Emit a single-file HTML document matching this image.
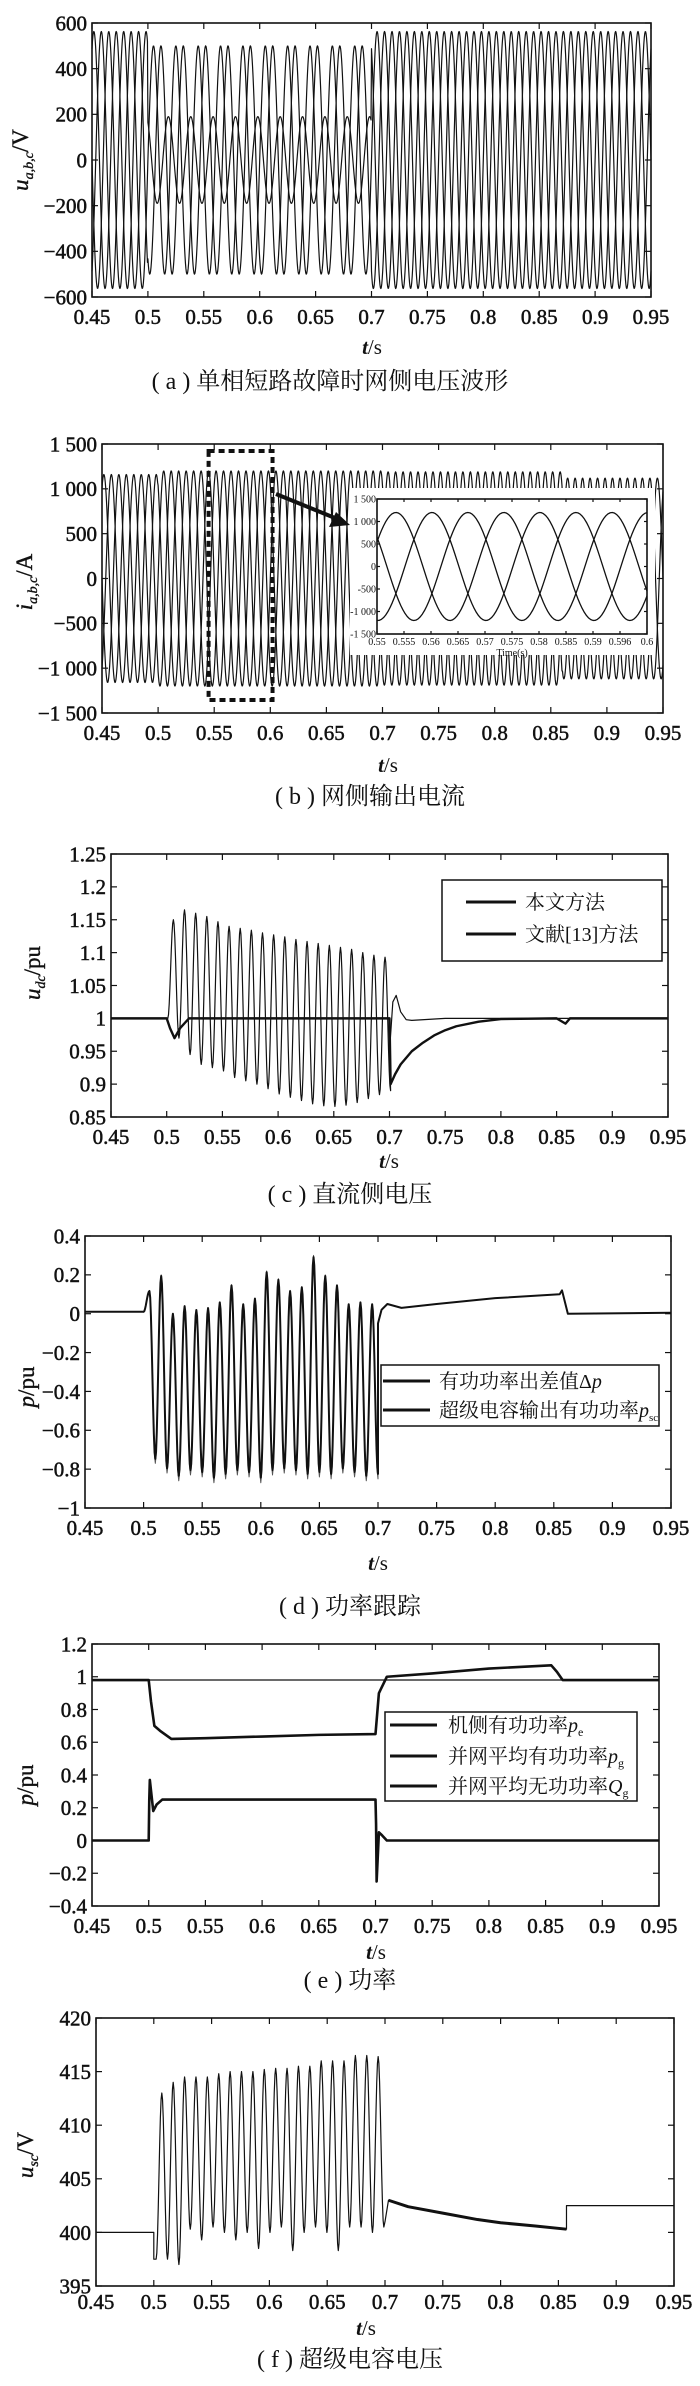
<!DOCTYPE html>
<html><head><meta charset="utf-8"><style>
html,body{margin:0;padding:0;background:#fff;}
svg{display:block;}
text{font-family:"Liberation Serif","Noto Serif CJK SC",serif;fill:#111;}
.cap{font-size:24px;}
.ttl{font-size:21px;}
.lg{font-size:20px;}
</style></head><body>
<svg id="root" width="700" height="2386" viewBox="0 0 700 2386" xmlns="http://www.w3.org/2000/svg"></svg>
<script>
// ---------- shared axis data ----------
const xTicks=[0.45,0.5,0.55,0.6,0.65,0.7,0.75,0.8,0.85,0.9,0.95];
const xTickLabels=["0.45","0.5","0.55","0.6","0.65","0.7","0.75","0.8","0.85","0.9","0.95"];
// (a) grid voltage
const aYTicks=[-600,-400,-200,0,200,400,600];
const aYLabels=["\u2212600","\u2212400","\u2212200","0","200","400","600"];
const aSegTimes=[0.45,0.5,0.7,0.95];
const aAmpA=[563,500,563];
const aAmpB=[563,500,563];
const aAmpC=[563,190,563];
// (b) grid current
const bYTicks=[-1500,-1000,-500,0,500,1000,1500];
const bYLabels=["\u22121 500","\u22121 000","\u2212500","0","500","1 000","1 500"];
const bSegTimes=[0.45,0.5,0.7,0.86,0.95];
const bAmp=[1160,1200,1190,1120];
const insetXTicks=[0.55,0.555,0.56,0.565,0.57,0.575,0.58,0.585,0.59,0.595,0.6];
const insetXLabels=["0.55","0.555","0.56","0.565","0.57","0.575","0.58","0.585","0.59","0.596","0.6"];
const insetAmp=[1200];
// (c) dc voltage
const cYTicks=[0.85,0.9,0.95,1,1.05,1.1,1.15,1.2,1.25];
const cYLabels=["0.85","0.9","0.95","1","1.05","1.1","1.15","1.2","1.25"];
const cRefPeaks=[1.15,1.165,1.16,1.155,1.147,1.14,1.137,1.134,1.13,1.127,1.124,1.12,1.117,1.114,1.111,1.108,1.105,1.1,1.096,1.093];
const cRefTroughs=[0.97,0.945,0.93,0.925,0.92,0.91,0.905,0.9,0.893,0.885,0.88,0.875,0.87,0.867,0.866,0.868,0.872,0.878,0.884,0.89];
const cRefAfterT=[0.7,0.703,0.706,0.71,0.715,0.72,0.75,0.95];
const cRefAfterV=[0.95,1.025,1.035,1.01,0.998,0.997,1.0,1.0];
const cOurT=[0.45,0.5,0.503,0.507,0.512,0.52,0.7,0.701,0.705,0.71,0.72,0.73,0.74,0.75,0.76,0.78,0.8,0.85,0.858,0.862,0.95];
const cOurV=[1.0,1.0,0.985,0.97,0.985,1.0,1.0,0.9,0.915,0.93,0.95,0.963,0.974,0.982,0.988,0.995,0.999,1.0,0.992,1.0,1.0];
// (d) power tracking
const dYTicks=[-1,-0.8,-0.6,-0.4,-0.2,0,0.2,0.4];
const dYLabels=["\u22121","\u22120.8","\u22120.6","\u22120.4","\u22120.2","0","0.2","0.4"];
const dPeaks=[0.12,0.2,0.0,0.04,0.02,0.03,0.06,0.15,0.05,0.08,0.22,0.18,0.12,0.14,0.3,0.2,0.15,0.05,0.06,0.05];
const dTroughs=[-0.77,-0.82,-0.86,-0.83,-0.84,-0.87,-0.85,-0.83,-0.84,-0.87,-0.83,-0.82,-0.83,-0.85,-0.84,-0.85,-0.82,-0.84,-0.86,-0.85];
const dBeforeT=[0.45,0.5];
const dBeforeV=[0.01,0.01];
const dAfterT=[0.7,0.703,0.708,0.72,0.75,0.8,0.855,0.857,0.862,0.95];
const dAfterV=[-0.05,0.02,0.05,0.03,0.05,0.08,0.1,0.12,0.0,0.005];
// (e) power
const eYTicks=[-0.4,-0.2,0,0.2,0.4,0.6,0.8,1,1.2];
const eYLabels=["\u22120.4","\u22120.2","0","0.2","0.4","0.6","0.8","1","1.2"];
const ePeT=[0.45,0.5,0.502,0.505,0.51,0.52,0.55,0.6,0.65,0.7,0.703,0.71,0.75,0.8,0.855,0.86,0.865,0.95];
const ePeV=[0.98,0.98,0.85,0.7,0.67,0.62,0.625,0.635,0.645,0.65,0.9,1.0,1.02,1.05,1.07,1.03,0.98,0.98];
const ePgT=[0.45,0.95];
const ePgV=[0.98,0.98];
const eQgT=[0.45,0.5,0.5005,0.501,0.504,0.507,0.512,0.7,0.7005,0.701,0.703,0.706,0.71,0.95];
const eQgV=[0,0,0.25,0.37,0.18,0.22,0.25,0.25,0.1,-0.25,0.05,0.03,0,0];
// (f) supercap voltage
const fYTicks=[395,400,405,410,415,420];
const fYLabels=["395","400","405","410","415","420"];
const fPeaks=[413,414,414.5,414.5,414.5,414.8,415,415,415,415.2,415.3,415.3,415.5,415.5,416,416,416,416.5,416.5,416.4];
const fTroughs=[397.5,397,400.3,399.3,400.5,400,399.3,400,398.5,400,400.5,398.3,400,400.5,400,398.3,400.5,400.5,400,400.5];
const fAfterT=[0.45,0.5,0.5,0.502];
const fAfterV=[400,400,397.5,397.5];
const fTailT=[0.7,0.703,0.72,0.75,0.78,0.8,0.83,0.857,0.857,0.95];
const fTailV=[401,403,402.4,401.8,401.2,400.9,400.6,400.3,402.5,402.5];

const NS="http://www.w3.org/2000/svg";
const root=document.getElementById('root');
function el(tag,attrs,parent){const e=document.createElementNS(NS,tag);for(const k in attrs)e.setAttribute(k,attrs[k]);(parent||root).appendChild(e);return e;}

function makeAxes(name,box,xd,yd){
  const g=el('g',{});
  
  
  const sx=v=>box.l+(v-xd[0])/(xd[1]-xd[0])*(box.r-box.l);
  const sy=v=>box.b-(v-yd[0])/(yd[1]-yd[0])*(box.b-box.t);
  return {g,sx,sy,box};
}
function frame(ax,xt,xl,yt,yl,opts){
  const {g,sx,sy,box}=ax;
  const tl=opts.tick||6, fs=opts.fs||21, sw=opts.sw===undefined?0.5:opts.sw;
  const fr=el('rect',{x:box.l,y:box.t,width:box.r-box.l,height:box.b-box.t,fill:'none',stroke:'#111','stroke-width':1.6},g);
  
  
  xt.forEach((v,i)=>{
    const x=sx(v);
    el('line',{x1:x,y1:box.b,x2:x,y2:box.b-tl,stroke:'#111','stroke-width':1.2},g);
    el('line',{x1:x,y1:box.t,x2:x,y2:box.t+tl,stroke:'#111','stroke-width':1.2},g);
    const t=el('text',{x:x,y:box.b+(opts.xlOff||27),'text-anchor':'middle','font-size':fs,stroke:'#111','stroke-width':sw},g);
    
    
    t.textContent=xl[i];
  });
  yt.forEach((v,i)=>{
    const y=sy(v);
    el('line',{x1:box.l,y1:y,x2:box.l+tl,y2:y,stroke:'#111','stroke-width':1.2},g);
    el('line',{x1:box.r,y1:y,x2:box.r-tl,y2:y,stroke:'#111','stroke-width':1.2},g);
    const t=el('text',{x:box.l-(opts.ylOff||5),y:y+fs*0.35,'text-anchor':'end','font-size':fs,stroke:'#111','stroke-width':sw},g);
    
    
    t.textContent=yl[i];
  });
}
function poly(ax,ts,vs,w,name,col){
  let d='';
  ts.forEach((t,i)=>{d+=(i?'L':'M')+ax.sx(t).toFixed(2)+','+ax.sy(vs[i]).toFixed(2);});
  const p=el('path',{d:d,fill:'none',stroke:col||'#111','stroke-width':w,'stroke-linejoin':'round'},ax.g);
  
  
  return p;
}
function sineSeries(segT,amps,phase,t0,t1,f){
  const ts=[],vs=[];const N=Math.round((t1-t0)/0.0004);
  for(let i=0;i<=N;i++){const t=t0+(t1-t0)*i/N;let k=0;while(k<amps.length-1&&t>=segT[k+1])k++;
    ts.push(t);vs.push(amps[k]*Math.sin(2*Math.PI*f*t+phase));}
  return [ts,vs];
}
function oscSeries(t0,T,peaks,troughs,startV){
  const ts=[t0],vs=[startV];let prev=startV,t=t0;
  for(let i=0;i<peaks.length;i++){
    const seq=[[T*0.5,peaks[i]],[T*0.5,troughs[i]]];
    seq.forEach(([dt,target])=>{const s=8;for(let j=1;j<=s;j++){const u=j/s;ts.push(t+dt*u);vs.push(prev+(target-prev)*(1-Math.cos(Math.PI*u))/2);}t+=dt;prev=target;});
  }
  return [ts,vs];
}
function txt(x,y,s,cls,name,anchor){const t=el('text',{x:x,y:y,class:cls,'text-anchor':anchor||'middle'});t.innerHTML=s;return t;}
function ytitle(x,y,s,name){const t=el('text',{x:0,y:0,'font-size':23,'text-anchor':'middle',stroke:'#111','stroke-width':0.4,transform:`translate(${x},${y}) rotate(-90)`});t.innerHTML=s;}
function legend(x,y,w,h,rows,lx1,lx2,tx,rowY,name,fs){
  const g=el('g',{});
  el('rect',{x:x,y:y,width:w,height:h,fill:'#fff',stroke:'#111','stroke-width':1.5},g);
  rows.forEach((r,i)=>{
    el('line',{x1:lx1,y1:rowY[i],x2:lx2,y2:rowY[i],stroke:'#111','stroke-width':3},g);
    const t=el('text',{x:tx,y:rowY[i]+7,class:'lg','font-size':fs||20},g);
    
    
    t.innerHTML=r;
  });
}
const ts_lab='<tspan font-style="italic" font-weight="bold">t</tspan>/s';

// ---------------- (a) ----------------
{const ax=makeAxes('chart-a-grid-voltage',{l:92,r:651,t:23,b:297},[0.45,0.95],[-600,600]);
 [[aAmpA,0],[aAmpB,-2*Math.PI/3],[aAmpC,2*Math.PI/3]].forEach(([amp,ph],i)=>{
  const [ts,vs]=sineSeries(aSegTimes,amp,ph,0.45,0.95,50);poly(ax,ts,vs,1.2,'phase-voltage-'+'abc'[i]);});
 frame(ax,xTicks,xTickLabels,aYTicks,aYLabels,{});
 txt(372,354,ts_lab,'ttl','x-axis-title');
 ytitle(28,160,'<tspan font-style="italic">u</tspan><tspan font-style="italic" font-size="14" dy="5">a,b,c</tspan><tspan dy="-5">/V</tspan>','y-axis-title');
 txt(330,389,'( a ) 单相短路故障时网侧电压波形','cap','caption-a');}

// ---------------- (b) ----------------
{const ax=makeAxes('chart-b-grid-current',{l:102,r:663,t:444,b:713},[0.45,0.95],[-1500,1500]);
 [0,-2*Math.PI/3,2*Math.PI/3].forEach((ph,i)=>{
  const [ts,vs]=sineSeries(bSegTimes,bAmp,ph,0.45,0.95,50);poly(ax,ts,vs,1.2,'phase-current-'+'abc'[i]);});
 frame(ax,xTicks,xTickLabels,bYTicks,bYLabels,{});
 const zb=el('rect',{x:ax.sx(0.545),y:451,width:ax.sx(0.602)-ax.sx(0.545),height:249,fill:'none',stroke:'#111','stroke-width':4,'stroke-dasharray':'6,4'});
 
 const ig=el('g',{});
 el('rect',{x:350,y:488,width:305,height:167,fill:'#fff'},ig);
 const ia=makeAxes('inset-axes',{l:377,r:647,t:499,b:634},[0.55,0.6],[-1500,1500]);
 [0,-2*Math.PI/3,2*Math.PI/3].forEach((ph,i)=>{
  const [ts,vs]=sineSeries([0.55,0.6],insetAmp,ph-2*Math.PI*50*0.5535+Math.PI/2,0.55,0.6,50);poly(ia,ts,vs,1.3,'inset-phase-'+'abc'[i]);});
 frame(ia,insetXTicks,insetXLabels,bYTicks,bYLabels.map(s=>s.replace('\u2212','-')),{tick:3,fs:10,xlOff:11,ylOff:1,sw:0});
 txt(512,656,'Time(s)','','inset-x-title').setAttribute('font-size','10');
 el('line',{x1:276,y1:494,x2:335,y2:518,stroke:'#111','stroke-width':4});
 const ah=el('polygon',{points:'350,525 329,527 336,512',fill:'#111'});
 txt(388,772,ts_lab,'ttl','x-axis-title');
 ytitle(32,582,'<tspan font-style="italic">i</tspan><tspan font-style="italic" font-size="14" dy="5">a,b,c</tspan><tspan dy="-5">/A</tspan>','y-axis-title');
 txt(370,804,'( b ) 网侧输出电流','cap','caption-b');}

// ---------------- (c) ----------------
{const ax=makeAxes('chart-c-dc-voltage',{l:111,r:668,t:854,b:1117},[0.45,0.95],[0.85,1.25]);
 const [ot,ov]=oscSeries(0.501,0.01,cRefPeaks,cRefTroughs,1.0);
 poly(ax,[0.45,0.5].concat(ot).concat(cRefAfterT),[1,1].concat(ov).concat(cRefAfterV),1.2,'series-ref13-method');
 poly(ax,cOurT,cOurV,2.4,'series-proposed-method');
 frame(ax,xTicks,xTickLabels,cYTicks,cYLabels,{});
 legend(442,880,220,81,['本文方法','文献[13]方法'],466,516,525,[902,934],'legend-c',22);
 txt(389,1168,ts_lab,'ttl','x-axis-title');
 ytitle(40,973,'<tspan font-style="italic">u</tspan><tspan font-style="italic" font-size="14" dy="5">dc</tspan><tspan dy="-5">/pu</tspan>','y-axis-title');
 txt(350,1202,'( c ) 直流侧电压','cap','caption-c');}

// ---------------- (d) ----------------
{const ax=makeAxes('chart-d-power-tracking',{l:85,r:671,t:1236,b:1508},[0.45,0.95],[-1,0.4]);
 const [ot,ov]=oscSeries(0.5,0.01,dPeaks,dTroughs,0.01);
 poly(ax,dBeforeT.concat(ot).concat(dAfterT),dBeforeV.concat(ov).concat(dAfterV),1.0,'series-delta-p','#555');
 poly(ax,dBeforeT.concat(ot).concat(dAfterT),dBeforeV.concat(ov.map(v=>v*0.97)).concat(dAfterV),2.0,'series-p-sc');
 frame(ax,xTicks,xTickLabels,dYTicks,dYLabels,{});
 legend(381,1365,278,61,['有功功率出差值Δ<tspan font-style="italic">p</tspan>','超级电容输出有功功率<tspan font-style="italic">p</tspan><tspan font-size="11" dy="4">sc</tspan>'],383,430,439,[1381,1410],'legend-d');
 txt(378,1570,ts_lab,'ttl','x-axis-title');
 ytitle(34,1387,'<tspan font-style="italic">p</tspan>/pu','y-axis-title');
 txt(350,1614,'( d ) 功率跟踪','cap','caption-d');}

// ---------------- (e) ----------------
{const ax=makeAxes('chart-e-power',{l:92,r:659,t:1644,b:1906},[0.45,0.95],[-0.4,1.2]);
 poly(ax,ePgT,ePgV,1.2,'series-pg');
 poly(ax,ePeT,ePeV,2.6,'series-pe');
 poly(ax,eQgT,eQgV,2.6,'series-qg');
 frame(ax,xTicks,xTickLabels,eYTicks,eYLabels,{});
 legend(385,1712,252,89,['机侧有功功率<tspan font-style="italic">p</tspan><tspan font-size="12" dy="4">e</tspan>','并网平均有功功率<tspan font-style="italic">p</tspan><tspan font-size="12" dy="4">g</tspan>','并网平均无功功率<tspan font-style="italic">Q</tspan><tspan font-size="12" dy="4">g</tspan>'],390,437,448,[1725,1756,1786],'legend-e');
 txt(376,1959,ts_lab,'ttl','x-axis-title');
 ytitle(33,1785,'<tspan font-style="italic">p</tspan>/pu','y-axis-title');
 txt(350,1988,'( e ) 功率','cap','caption-e');}

// ---------------- (f) ----------------
{const ax=makeAxes('chart-f-supercap-voltage',{l:96,r:674,t:2018,b:2286},[0.45,0.95],[395,420]);
 const [ot,ov]=oscSeries(0.502,0.00985,fPeaks,fTroughs,397.5);
 poly(ax,fAfterT.concat(ot).concat(fTailT),fAfterV.concat(ov).concat(fTailV),1.2,'series-usc');
 poly(ax,fTailT.slice(1,8),fTailV.slice(1,8),3,'series-usc-ripple-band');
 frame(ax,xTicks,xTickLabels,fYTicks,fYLabels,{xlOff:23});
 txt(366,2335,ts_lab,'ttl','x-axis-title');
 ytitle(33,2155,'<tspan font-style="italic">u</tspan><tspan font-style="italic" font-size="14" dy="5">sc</tspan><tspan dy="-5">/V</tspan>','y-axis-title');
 txt(350,2367,'( f ) 超级电容电压','cap','caption-f');}
</script>
</body></html>
